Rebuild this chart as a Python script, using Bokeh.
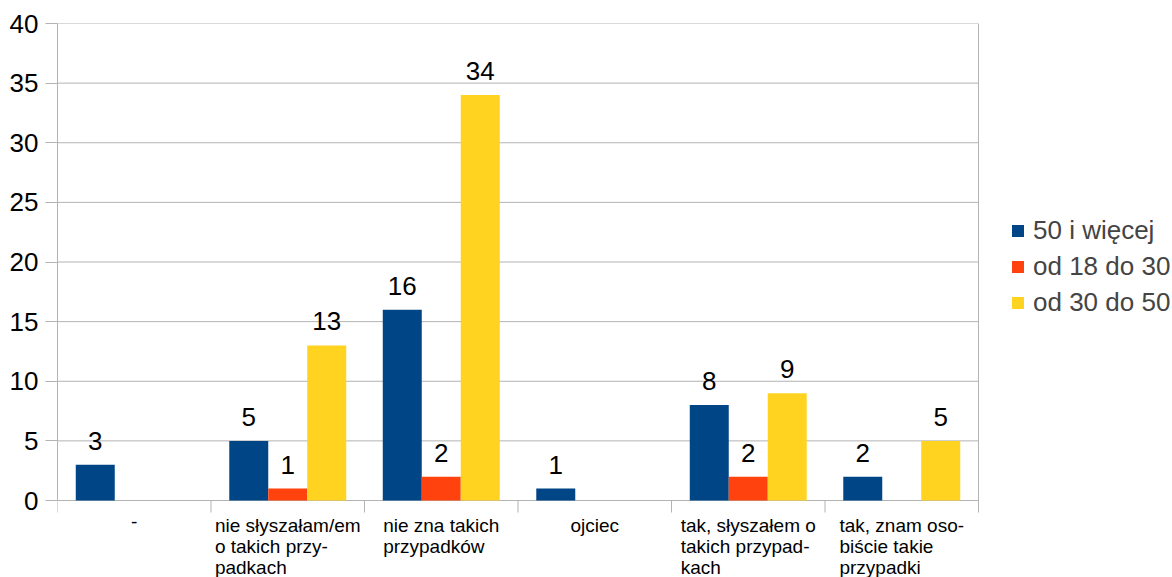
from bokeh.plotting import figure
from bokeh.models import (ColumnDataSource, Range1d, FixedTicker, Legend,
                          LegendItem)
from bokeh.embed import file_html
from bokeh.resources import INLINE
from bokeh.core.properties import value

# ---- data ----
categories = [
    ["-"],
    ["nie słyszałam/em", "o takich przy-", "padkach"],
    ["nie zna takich", "przypadków"],
    ["ojciec"],
    ["tak, słyszałem o", "takich przypad-", "kach"],
    ["tak, znam oso-", "biście takie", "przypadki"],
]
series_names = ["50 i więcej", "od 18 do 30", "od 30 do 50"]
s_50_plus = [3, 5, 16, 1, 8, 2]
s_18_30 = [None, 1, 2, None, 2, None]
s_30_50 = [None, 13, 34, None, 9, 5]
series_values = [s_50_plus, s_18_30, s_30_50]
y_ticks = [0, 5, 10, 15, 20, 25, 30, 35, 40]

colors = ["#004586", "#ff420e", "#ffd320"]
grid = "#b3b3b3"
FONT = "Liberation Sans"

# ---- layout (pixels) ----
W, H = 1172, 577
LEFT, TOP = 57, 23          # plot-area origin
PLOT_W, PLOT_H = 921, 477   # plot-area size
TICK = 12

n = len(categories)
ymax = y_ticks[-1]
ppx = n / PLOT_W            # x data units per pixel
ppy = ymax / PLOT_H         # y data units per pixel
x_end = (W - LEFT) * ppx
y_start = -(H - TOP - PLOT_H) * ppy

p = figure(width=W, height=H, x_range=Range1d(0, x_end),
           y_range=Range1d(y_start, ymax), x_axis_location=None,
           output_backend="svg", toolbar_location=None,
           min_border_left=LEFT, min_border_right=0, min_border_top=TOP,
           min_border_bottom=0)
p.outline_line_color = None
p.background_fill_color = "white"
p.border_fill_color = "white"
p.xgrid.grid_line_color = None
p.ygrid.grid_line_color = None

# grid lines across the plot area
p.segment(x0=[0] * len(y_ticks), x1=[n] * len(y_ticks), y0=y_ticks,
          y1=y_ticks, line_color=grid, line_width=1)
# category boundary ticks (last one continues as right border)
bx = list(range(n + 1))
p.segment(x0=bx, x1=bx, y0=[0] * n + [ymax], y1=[-TICK * ppy] * (n + 1),
          line_color=grid, line_width=1)

bar_w = 0.254
offsets = [-bar_w, 0.0, bar_w]
renderers = []
for k, (vals, col) in enumerate(zip(series_values, colors)):
    xs = [i + 0.5 + offsets[k] for i in range(n)]
    tops = [float("nan") if v is None else v for v in vals]
    src = ColumnDataSource(dict(x=xs, top=tops))
    r = p.vbar(x="x", top="top", bottom=0, width=bar_w, source=src,
               fill_color=col, line_color=None)
    renderers.append(r)
    lx = [x for x, v in zip(xs, vals) if v is not None]
    ly = [v for v in vals if v is not None]
    lsrc = ColumnDataSource(dict(x=lx, y=ly, t=[str(v) for v in ly]))
    p.text(x="x", y="y", text="t", source=lsrc, text_align="center",
           text_baseline="alphabetic", y_offset=-24,
           text_font=value(FONT), text_font_size="26px", text_color="black")

# category labels below the axis
csrc = ColumnDataSource(dict(x=[i + 0.5 for i in range(n)],
                             y=[0] * n,
                             t=["\n".join(c) for c in categories]))
p.text(x="x", y="y", text="t", source=csrc, anchor="top_center",
       text_align="left", y_offset=14, text_font=value(FONT),
       text_font_size="19px", text_line_height=1.0, text_color="black")

# y axis
p.yaxis.bounds = (0, ymax)
p.yaxis.ticker = FixedTicker(ticks=y_ticks)
p.yaxis.major_label_text_font = FONT
p.yaxis.major_label_text_font_size = "26px"
p.yaxis.major_label_text_color = "black"
p.yaxis.major_label_standoff = 7
p.yaxis.major_tick_out = TICK
p.yaxis.major_tick_in = 0
p.yaxis.minor_tick_out = 0
p.yaxis.minor_tick_in = 0
p.yaxis.axis_line_color = grid
p.yaxis.major_tick_line_color = grid

legend = Legend(items=[LegendItem(label=nm, renderers=[r])
                       for nm, r in zip(series_names, renderers)],
                location=(953, 259), orientation="vertical",
                glyph_width=15, glyph_height=15, label_text_font=FONT,
                label_text_font_size="26px", label_standoff=8, spacing=5,
                padding=0, margin=0, border_line_color=None,
                background_fill_alpha=0)
p.add_layout(legend)

open("out.html", "w").write(file_html(p, INLINE))
